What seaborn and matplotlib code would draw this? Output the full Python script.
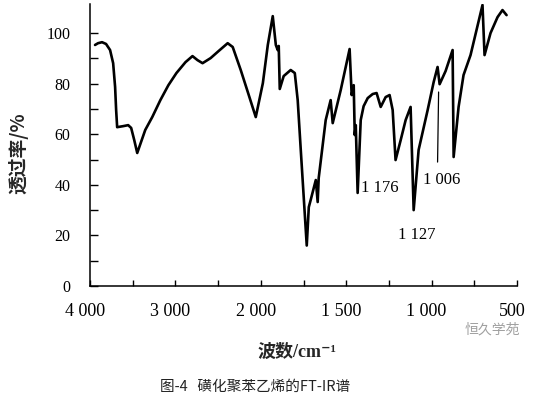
import numpy as np
import pandas as pd
import matplotlib
matplotlib.use('Agg')
import matplotlib.pyplot as plt
from matplotlib.transforms import ScaledTranslation
import seaborn as sns

# FT-IR spectrum of sulfonated polystyrene
wavenumber = [3941, 3906, 3859, 3812, 3765, 3729, 3706, 3694, 3682, 3612,
              3553, 3518, 3482, 3447, 3353, 3271, 3176, 3082, 2988, 2882,
              2800, 2741, 2682, 2588, 2494, 2388, 2329, 2235, 2141, 2059,
              1988, 1959, 1930, 1912, 1901, 1895, 1889, 1866, 1825, 1801,
              1784, 1766, 1731, 1719, 1708, 1678, 1667, 1661, 1620, 1591,
              1579, 1532, 1480, 1468, 1456, 1450, 1444, 1433, 1415, 1398,
              1374, 1345, 1322, 1298, 1269, 1246, 1228, 1211, 1181, 1152,
              1123, 1105, 1076, 1023, 988, 965, 953, 918, 877, 871,
              842, 813, 772, 737, 702, 690, 655, 614, 585, 561]
transmittance = [95.3, 96.0, 96.4, 95.7, 93.3, 88.1, 78.7, 69.6, 62.8, 63.2,
                 63.6, 62.5, 57.7, 52.6, 61.7, 66.8, 73.5, 79.4, 84.2, 88.5,
                 90.9, 89.3, 88.1, 90.1, 92.9, 96.0, 94.5, 85.4, 75.5, 66.8,
                 80.2, 95.3, 106.7, 95.3, 93.3, 94.9, 77.9, 83.0, 85.4, 84.2,
                 73.5, 53.8, 16.0, 31.2, 34.0, 41.9, 33.2, 42.7, 65.6, 73.5,
                 64.4, 77.5, 93.7, 75.5, 79.4, 59.7, 63.6, 36.8, 65.6, 71.1,
                 74.3, 75.9, 76.3, 70.8, 74.7, 75.5, 69.6, 49.8, 57.7, 65.6,
                 70.8, 30.0, 53.8, 69.6, 80.6, 86.6, 79.8, 85.0, 93.3, 51.0,
                 70.8, 83.4, 91.3, 101.2, 111.1, 91.3, 100.0, 106.3, 109.1, 107.1]

major_ticks = [4000, 3000, 2000, 1500, 1000, 500]
major_labels = ['4 000', '3 000', '2 000', '1 500', '1 000', '500']
minor_ticks = [3500, 2500, 1750, 1250, 750]

peak_labels = ['1 176', '1 006', '1 127']
peak_x = [1415, 1053, 1199]
peak_y = [38.7, 41.9, 20.2]
marker_x = [959, 965]
marker_y = [76.7, 49.0]

df = pd.DataFrame({'wavenumber': wavenumber, 'T': transmittance})


# the usual IR split scale: 4000-2000 compressed, 2000-500 doubled
def fwd(w):
    w = np.asarray(w, dtype=float)
    return np.where(w >= 2000, w / 1000.0, w / 500.0 - 2.0)


def inv(u):
    u = np.asarray(u, dtype=float)
    return np.where(u >= 2, u * 1000.0, (u + 2.0) * 500.0)


sns.set_style('ticks')
plt.rcParams['font.family'] = ['Liberation Serif', 'Noto Sans CJK SC', 'DejaVu Sans']
plt.rcParams['axes.linewidth'] = 1.1

fig = plt.figure(figsize=(5.36, 3.96), dpi=100)
ax = fig.add_axes([90 / 536, 1 - 286 / 396, 427 / 536, 282 / 396])

sns.lineplot(data=df, x='wavenumber', y='T', ax=ax, color='black',
             linewidth=1.9, sort=False, estimator=None)
ax.lines[0].set_solid_joinstyle('round')

ax.set_xscale('function', functions=(fwd, inv))
ax.set_xlim(4000, 500)
ax.set_ylim(0, 111.5)

ax.set_xticks(major_ticks)
ax.set_xticklabels(major_labels)
ax.set_xticks(minor_ticks, minor=True)
ax.set_yticks([0, 20, 40, 60, 80, 100])
ax.set_yticks([10, 30, 50, 70, 90], minor=True)

ax.tick_params(axis='x', which='both', direction='in', length=4, width=1.0,
               pad=12, labelsize=13, colors='black')
ax.tick_params(axis='y', which='both', direction='in', length=6, width=1.0,
               pad=14, labelsize=11.5, colors='black')
for lbl in ax.get_xticklabels():
    lbl.set_transform(lbl.get_transform() + ScaledTranslation(-5 / 100, 0, fig.dpi_scale_trans))

ax.set_xlabel('')
ax.set_ylabel('')
sns.despine(ax=ax)
for s in ['left', 'bottom']:
    ax.spines[s].set_color('black')

# peak annotations
for lab, px, py in zip(peak_labels, peak_x, peak_y):
    ax.text(px, py, lab, fontsize=12, ha='left', va='center', color='black')
ax.plot(marker_x, marker_y, color='black', linewidth=0.9)

fig.text(18 / 536, 1 - 153 / 396, '透过率/%', rotation=90, ha='center', va='center',
         fontsize=13.5, fontweight='bold',
         family=['Noto Sans CJK SC', 'DejaVu Sans'])
fig.text(297 / 536, 1 - 352 / 396, '波数/cm⁻¹', ha='center', va='center',
         fontsize=13, fontweight='bold',
         family=['Liberation Serif', 'Noto Sans CJK SC', 'DejaVu Sans'])
fig.text(492 / 536, 1 - 329 / 396, '恒久学苑', ha='center', va='center',
         fontsize=10, color='#a0a0a0',
         family=['Noto Sans CJK SC', 'DejaVu Sans'])
fig.text(255 / 536, 1 - 387 / 396, '图-4   磺化聚苯乙烯的FT-IR谱', ha='center', va='center',
         fontsize=10.5, color='#222222',
         family=['Noto Sans CJK SC', 'DejaVu Sans'])

fig.savefig('out.png', dpi=100)
